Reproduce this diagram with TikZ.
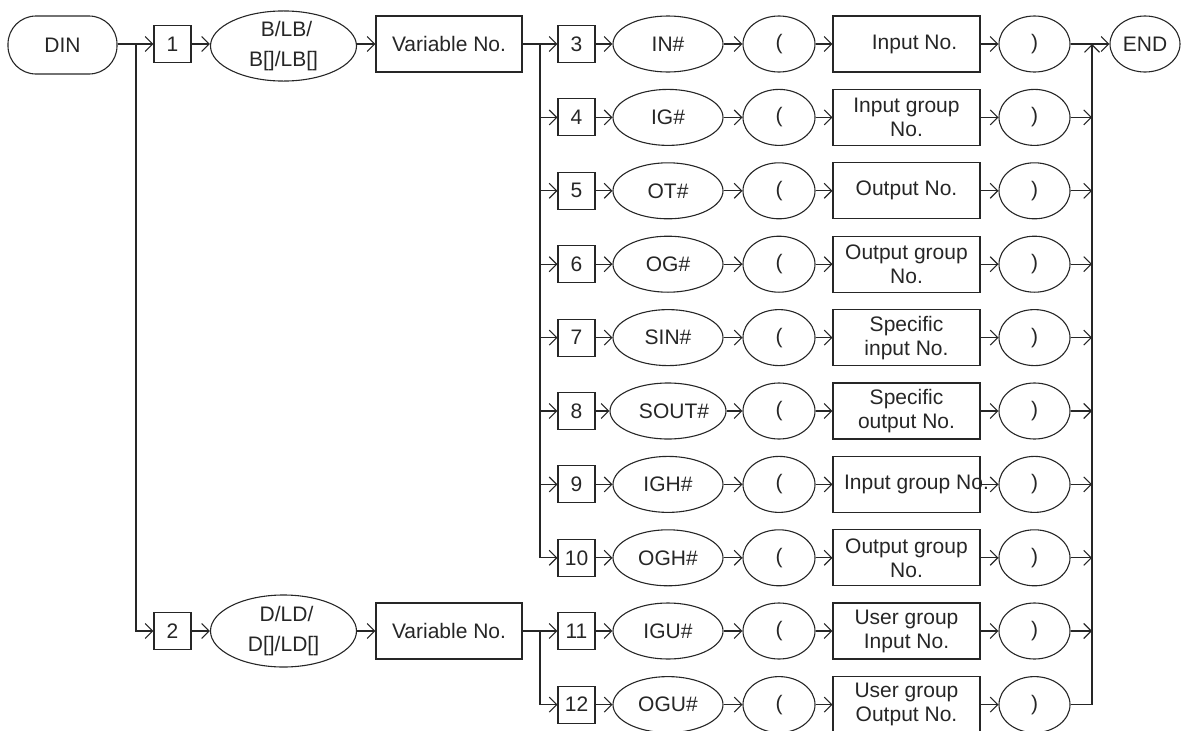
\documentclass[tikz,border=0pt]{standalone}
\usepackage{fontspec}
\setmainfont{Liberation Sans}
\usetikzlibrary{arrows.meta,shapes.geometric}
\tikzset{
  x=1pt, y=-1pt,
  every node/.style={text=black!85, font=\fontsize{21}{24}\selectfont, inner sep=0pt, draw=black!85, line width=1.1pt},
  arr/.style={draw=black!85, line width=1.1pt, -{Straight Barb[length=7.5pt,width=15pt]}},
  ln/.style={draw=black!85, line width=1.1pt},
  numbox/.style={rectangle, minimum width=37, minimum height=37},
  oval/.style={ellipse, minimum height=56},
  valbox/.style={rectangle, minimum width=147, minimum height=56, align=center},
  bigoval/.style={ellipse, minimum width=146, minimum height=68, align=center, font=\fontsize{21}{30}\selectfont},
}
\newcommand\mkrow[6]{%
  \node[numbox] (n#1) at (576.5,#2) {#3};
  \node[oval, minimum width=110] (e#1) at (668,#2) {#4};
  \node[oval, minimum width=72] (l#1) at (779,#2) {(};
  \node[valbox] (v#1) at (906.5,#2) {#5};
  \node[oval, minimum width=71] (r#1) at (1034.5,#2) {)};
  \draw[arr] (n#1) -- (e#1);
  \draw[arr] (e#1) -- (l#1);
  \draw[arr] (l#1) -- (v#1);
  \draw[arr] (v#1) -- (r#1);
}
\begin{document}
\begin{tikzpicture}
\useasboundingbox (0,0) rectangle (1184,731);
% top left
\node[rectangle, rounded corners=28pt, minimum width=109, minimum height=58] (din) at (62.5,45) {DIN};
\node[numbox] (b1) at (172.5,44) {1};
\node[bigoval] (e1) at (283.5,46) {\hspace*{6pt}B/LB/\\B[]/LB[]};
\node[valbox, minimum width=146] (vn1) at (449,44) {Variable No.};
% bottom left
\node[numbox] (b2) at (172.5,631) {2};
\node[bigoval, minimum height=72] (e2) at (283.5,631) {\hspace*{6pt}D/LD/\\D[]/LD[]};
\node[valbox, minimum width=146] (vn2) at (449,631) {Variable No.};
% rows
\mkrow{3}{44}{3}{IN\#}{\hspace*{16pt}Input No.}{}
\mkrow{4}{117.4}{4}{IG\#}{Input group\\No.}{}
\mkrow{5}{190.8}{5}{OT\#}{Output No.}{}
\mkrow{6}{264.2}{6}{OG\#}{Output group\\No.}{}
\mkrow{7}{337.6}{7}{SIN\#}{Specific\\input No.}{}
\mkrow{8}{411}{8}{\hspace*{12pt}SOUT\#}{Specific\\output No.}{}
\mkrow{9}{484.4}{9}{IGH\#}{}{}
\node[draw=none, anchor=center] (t9) at (916.5,484.4) {Input group No.};
\mkrow{10}{557.8}{10}{OGH\#}{Output group\\No.}{}
\mkrow{11}{631}{11}{IGU\#}{User group\\Input No.}{}
\mkrow{12}{704.6}{12}{OGU\#}{User group\\Output No.}{}
\node[oval, minimum width=70] (end) at (1145,44) {END};
% left connectors
\coordinate (j0) at (136,44);
\draw[arr] (din.east |- b1.west) -- (b1.west);
\draw[arr] (j0) |- (b2.west);
\draw[arr] (b1.east) -- (b1.east -| e1.west);
\draw[arr] (e1.east |- vn1.east) -- (vn1.west);
\draw[arr] (b2) -- (e2);
\draw[arr] (e2) -- (vn2);
% branches
\coordinate (lb) at (540,44);
\draw[arr] (vn1.east) -- (n3.west);
\foreach \i in {4,...,9} {\draw[arr] (lb |- n\i.west) -- (n\i.west);}
\draw[arr] (lb) |- (n10.west);
\coordinate (lb2) at (540,631);
\draw[arr] (vn2.east) -- (n11.west);
\draw[arr] (lb2) |- (n12.west);
% right collector
\coordinate (rv) at (1092,44);
\draw[arr] (r3) -- (end);
\foreach \i in {4,...,11} {\draw[arr] (r\i.east) -- (r\i.east -| rv);}
\draw[arr] (r12.east) -| (rv);
\end{tikzpicture}
\end{document}
